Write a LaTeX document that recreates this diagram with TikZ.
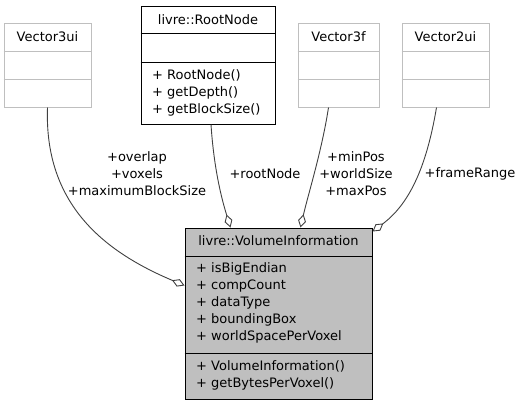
\documentclass[tikz,border=0pt]{standalone}
\usepackage{fontspec}
\setmainfont{DejaVu Sans}
\usetikzlibrary{arrows.meta,calc}
\definecolor{lgray}{HTML}{BFBFBF}
\definecolor{edgec}{HTML}{404040}
\begin{document}
\begin{tikzpicture}[x=1pt,y=-1pt,
  txt/.style={font=\fontsize{13}{17}\selectfont, inner sep=0pt},
  lbl/.style={font=\fontsize{13}{17}\selectfont, inner sep=0pt, align=center},
  lightbox/.style={draw=lgray, fill=white, line width=1pt, inner sep=0pt},
  darkbox/.style={draw=black, fill=white, line width=1pt, inner sep=0pt},
  mainbox/.style={draw=black, fill=lgray, line width=1pt, inner sep=0pt},
  assoc/.style={draw=edgec, line width=0.9pt, -{Diamond[length=13.5pt,width=8pt,fill=white]}}]
\useasboundingbox (0,0) rectangle (523,405);

% Vector3ui
\node[lightbox, minimum width=87pt, minimum height=84pt] (v3ui) at (47.5,65) {};
\draw[lgray, line width=1pt] (v3ui.west |- 0,51) -- (v3ui.east |- 0,51);
\draw[lgray, line width=1pt] (v3ui.west |- 0,79) -- (v3ui.east |- 0,79);
\node[txt, anchor=base] (v3uit) at (47.5,41) {Vector3ui};

% RootNode
\node[darkbox, minimum width=134pt, minimum height=118pt] (root) at (208,65) {};
\draw[black, line width=1pt] (root.west |- 0,33) -- (root.east |- 0,33);
\draw[black, line width=1pt] (root.west |- 0,62) -- (root.east |- 0,62);
\node[txt, anchor=base] (roott) at (208,24) {livre::RootNode};
\node[txt, anchor=base west] (rootm1) at (152,79) {+ RootNode()};
\node[txt, anchor=base west] (rootm2) at (152,96) {+ getDepth()};
\node[txt, anchor=base west] (rootm3) at (152,113) {+ getBlockSize()};

% Vector3f
\node[lightbox, minimum width=81pt, minimum height=84pt] (v3f) at (338.5,65) {};
\draw[lgray, line width=1pt] (v3f.west |- 0,51) -- (v3f.east |- 0,51);
\draw[lgray, line width=1pt] (v3f.west |- 0,79) -- (v3f.east |- 0,79);
\node[txt, anchor=base] (v3ft) at (338.5,41) {Vector3f};

% Vector2ui
\node[lightbox, minimum width=87pt, minimum height=84pt] (v2ui) at (445.5,65) {};
\draw[lgray, line width=1pt] (v2ui.west |- 0,51) -- (v2ui.east |- 0,51);
\draw[lgray, line width=1pt] (v2ui.west |- 0,79) -- (v2ui.east |- 0,79);
\node[txt, anchor=base] (v2uit) at (445.5,41) {Vector2ui};

% VolumeInformation
\node[mainbox, minimum width=187pt, minimum height=171pt] (vi) at (278.5,313.5) {};
\draw[black, line width=1pt] (vi.west |- 0,256) -- (vi.east |- 0,256);
\draw[black, line width=1pt] (vi.west |- 0,353) -- (vi.east |- 0,353);
\node[txt, anchor=base] (vit) at (278.5,245.5) {livre::VolumeInformation};
\node[txt, anchor=base west] (via1) at (196,272.5) {+ isBigEndian};
\node[txt, anchor=base west] (via2) at (196,289.5) {+ compCount};
\node[txt, anchor=base west] (via3) at (196,306.5) {+ dataType};
\node[txt, anchor=base west] (via4) at (196,323.5) {+ boundingBox};
\node[txt, anchor=base west] (via5) at (196,340.5) {+ worldSpacePerVoxel};
\node[txt, anchor=base west] (vim1) at (196,370.5) {+ VolumeInformation()};
\node[txt, anchor=base west] (vim2) at (196,387.5) {+ getBytesPerVoxel()};

% connectors
\draw[assoc] (v3ui.south) .. controls (44,205) and (105,252) .. ([yshift=-58pt]vi.north west);
\draw[assoc] ([xshift=3pt]root.south) .. controls (214,170) and (222,200) .. ([xshift=46pt]vi.north west);
\draw[assoc] ([xshift=-10pt]v3f.south) .. controls (322,150) and (308,195) .. ([xshift=-72pt]vi.north east);
\draw[assoc] ([xshift=-9pt]v2ui.south) .. controls (426,170) and (408,205) .. ([yshift=-4pt]vi.north east);

% labels
\node[lbl] (l1) at (137,174) {+overlap\\+voxels\\+maximumBlockSize};
\node[lbl] (l2) at (265,174) {+rootNode};
\node[lbl] (l3) at (356,174) {+minPos\\+worldSize\\+maxPos};
\node[lbl] (l4) at (470,174) {+frameRange};
\end{tikzpicture}
\end{document}
